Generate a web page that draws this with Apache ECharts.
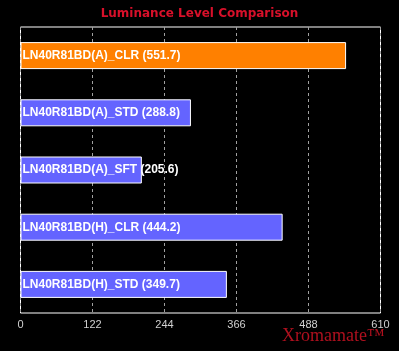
<!DOCTYPE html>
<html>
<head>
<meta charset="utf-8">
<script src="https://cdn.jsdelivr.net/npm/echarts@6/dist/echarts.min.js"></script>
<style>
  html, body { margin: 0; padding: 0; background: #000; }
  #chart { width: 399px; height: 351px; }
</style>
</head>
<body>
<div id="chart"></div>
<script>
// 数据
const categories = ['LN40R81BD(A)_CLR', 'LN40R81BD(A)_STD', 'LN40R81BD(A)_SFT', 'LN40R81BD(H)_CLR', 'LN40R81BD(H)_STD'];
const values = [551.7, 288.8, 205.6, 444.2, 349.7];
const barColors = ['#ff8000', '#6464ff', '#6464ff', '#6464ff', '#6464ff'];
const axisMax = 610;
const axisStep = 122;

const chart = echarts.init(document.getElementById('chart'));

const option = {
    backgroundColor: '#000',
    animation: false,
    title: {
        text: 'Luminance Level Comparison',
        left: 'center',
        top: 3,
        textStyle: {
            color: '#d8102a',
            fontSize: 12,
            fontWeight: 'bold',
            fontFamily: 'DejaVu Sans'
        }
    },
    grid: {
        left: 20.5,
        right: 18.5,
        top: 27,
        bottom: 38,
        show: true,
        borderColor: '#fff',
        borderWidth: 1,
        backgroundColor: 'transparent'
    },
    xAxis: {
        type: 'value',
        min: 0,
        max: axisMax,
        interval: axisStep,
        axisLine: { show: false },
        axisTick: { show: false },
        axisLabel: {
            color: '#d0d0d0',
            fontSize: 11,
            fontFamily: 'Arial, Liberation Sans',
            margin: 6,
            showMaxLabel: true,
            showMinLabel: true
        },
        splitLine: {
            show: true,
            lineStyle: { type: [3, 3], color: '#a0a0a0', width: 1 }
        }
    },
    yAxis: {
        type: 'category',
        inverse: true,
        data: categories,
        axisLine: { show: false },
        axisTick: { show: false },
        axisLabel: { show: false },
        splitLine: { show: false }
    },
    series: [{
        type: 'bar',
        barWidth: 27,
        data: values.map((v, i) => ({
            value: v,
            itemStyle: { color: barColors[i] }
        })),
        itemStyle: {
            borderColor: '#fff',
            borderWidth: 1
        },
        label: {
            show: true,
            position: 'insideLeft',
            distance: 2,
            color: '#fff',
            fontSize: 12,
            fontWeight: 'bold',
            fontFamily: 'Arial, Liberation Sans',
            formatter: p => categories[p.dataIndex] + ' (' + p.value + ')'
        }
    }],
    graphic: [{
        type: 'text',
        left: 282,
        top: 327,
        style: {
            text: 'Xromamate™',
            fill: '#b0101e',
            font: '18px "Liberation Serif"'
        }
    }]
};

chart.setOption(option);
</script>
</body>
</html>
